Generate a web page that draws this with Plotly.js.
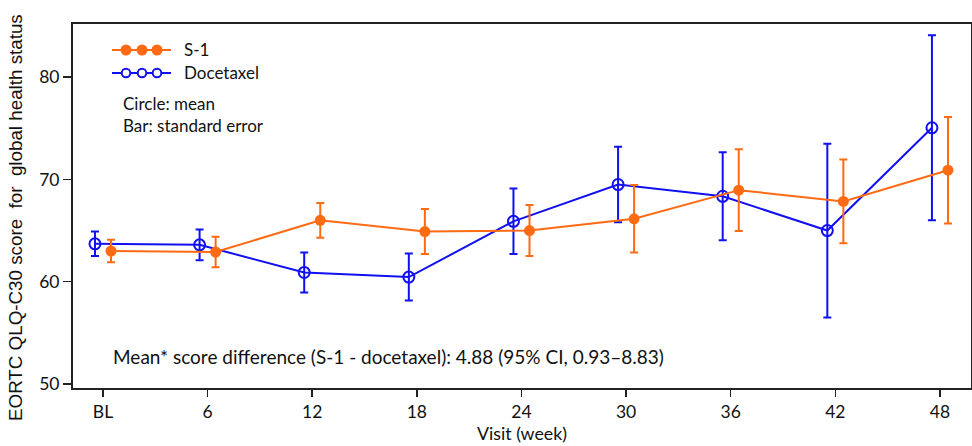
<!DOCTYPE html>
<html>
<head>
<meta charset="utf-8">
<script src="https://cdn.plot.ly/plotly-3.0.1.min.js"></script>
<style>html,body{margin:0;padding:0;background:#fff}#chart{width:972px;height:446px}</style>
</head>
<body>
<div id="chart"></div>
<script>
// ---- data ----
const visitWeeks = [0, 6, 12, 18, 24, 30, 36, 42, 48];
const visitLabels = ['BL', '6', '12', '18', '24', '30', '36', '42', '48'];
const s1Mean = [63.0, 62.9, 66.0, 64.9, 65.0, 66.15, 68.95, 67.85, 70.9];
const s1SE = [1.1, 1.5, 1.7, 2.2, 2.5, 3.3, 4.0, 4.1, 5.2];
const docMean = [63.7, 63.6, 60.9, 60.45, 65.9, 69.5, 68.35, 65.0, 75.05];
const docSE = [1.2, 1.5, 1.95, 2.3, 3.2, 3.7, 4.3, 8.5, 9.05];
const seriesNames = ['S-1', 'Docetaxel'];
const yTitle = 'EORTC QLQ-C30 score\u00a0 for\u00a0 global health status';
const xTitle = 'Visit (week)';

const orange = '#FF6A13';
const blue = '#1010F0';
const font = 'Lato, "Open Sans", sans-serif';
const sans = '"Liberation Sans", Arial, sans-serif';
const offset = 0.46;

const traceDoc = {
  x: visitWeeks.map(v => v - offset), y: docMean, name: seriesNames[1],
  type: 'scatter', mode: 'lines+markers',
  line: {color: blue, width: 2},
  marker: {symbol: 'circle-open', size: 11, color: blue, line: {width: 2, color: blue}},
  error_y: {type: 'data', array: docSE, visible: true, color: blue, thickness: 2, width: 4},
  showlegend: false
};
const traceS1 = {
  x: visitWeeks.map(v => v + offset), y: s1Mean, name: seriesNames[0],
  type: 'scatter', mode: 'lines+markers',
  line: {color: orange, width: 2},
  marker: {symbol: 'circle', size: 11, color: orange},
  error_y: {type: 'data', array: s1SE, visible: true, color: orange, thickness: 2, width: 4},
  showlegend: false
};

// custom legend (decoration in paper pixels)
const L = 73, T = 24, W = 898, H = 364;
const px = x => (x - L) / W;
const py = y => 1 - (y - T) / H;
const shapes = [];
function legendRow(y, color, filled) {
  shapes.push({type: 'line', xref: 'paper', yref: 'paper', x0: px(112), x1: px(171), y0: py(y), y1: py(y), line: {color: color, width: 2}});
  [126, 142, 157].forEach(cx => {
    const r = filled ? 5.5 : 4.3;
    shapes.push({type: 'circle', xref: 'paper', yref: 'paper', x0: px(cx - r), x1: px(cx + r), y0: py(y + r), y1: py(y - r),
      fillcolor: filled ? color : 'white', line: {color: color, width: filled ? 0 : 2}});
  });
}
legendRow(50, orange, true);
legendRow(73, blue, false);

const annotations = [
  {xref: 'paper', yref: 'paper', x: px(182), y: py(50), xanchor: 'left', yanchor: 'middle', text: seriesNames[0], showarrow: false, font: {family: font, size: 17, color: '#111'}},
  {xref: 'paper', yref: 'paper', x: px(182), y: py(73), xanchor: 'left', yanchor: 'middle', text: seriesNames[1], showarrow: false, font: {family: font, size: 17, color: '#111'}},
  {xref: 'paper', yref: 'paper', x: px(121), y: py(103), xanchor: 'left', yanchor: 'middle', text: 'Circle: mean', showarrow: false, font: {family: font, size: 17, color: '#111'}},
  {xref: 'paper', yref: 'paper', x: px(121), y: py(125), xanchor: 'left', yanchor: 'middle', text: 'Bar: standard error', showarrow: false, font: {family: font, size: 17, color: '#111'}},
  {xref: 'paper', yref: 'paper', x: px(111), y: py(356), xanchor: 'left', yanchor: 'middle', text: 'Mean* score difference (S-1 - docetaxel): 4.88 (95% CI, 0.93–8.83)', showarrow: false, font: {family: font, size: 19, color: '#111'}},
  {xref: 'paper', yref: 'paper', x: px(15), y: py(218), xanchor: 'center', yanchor: 'middle', textangle: -90, text: yTitle, showarrow: false, font: {family: sans, size: 18.8, color: '#111'}}
];

const layout = {
  width: 972, height: 446,
  margin: {l: 73, r: 1, t: 24, b: 58},
  paper_bgcolor: '#fff', plot_bgcolor: '#fff',
  font: {family: font, color: '#111'},
  showlegend: false,
  xaxis: {
    range: [-1.72, 49.78], tickvals: visitWeeks, ticktext: visitLabels,
    showgrid: false, zeroline: false, showline: true, mirror: true, linecolor: '#222', linewidth: 2,
    ticks: 'outside', ticklen: 7, tickwidth: 1.5, tickcolor: '#222',
    tickfont: {family: font, size: 17.5, color: '#111'},
    title: {text: xTitle, font: {family: font, size: 17.8, color: '#111'}, standoff: 6}
  },
  yaxis: {
    range: [49.6, 85.2], tickvals: [50, 60, 70, 80],
    showgrid: false, zeroline: false, showline: true, mirror: true, linecolor: '#222', linewidth: 2,
    ticks: 'outside', ticklen: 8, tickwidth: 1.5, tickcolor: '#222',
    tickfont: {family: font, size: 17.5, color: '#111'}
  },
  shapes: shapes,
  annotations: annotations
};

Plotly.newPlot('chart', [traceDoc, traceS1], layout, {displayModeBar: false, staticPlot: true});
</script>
</body>
</html>
